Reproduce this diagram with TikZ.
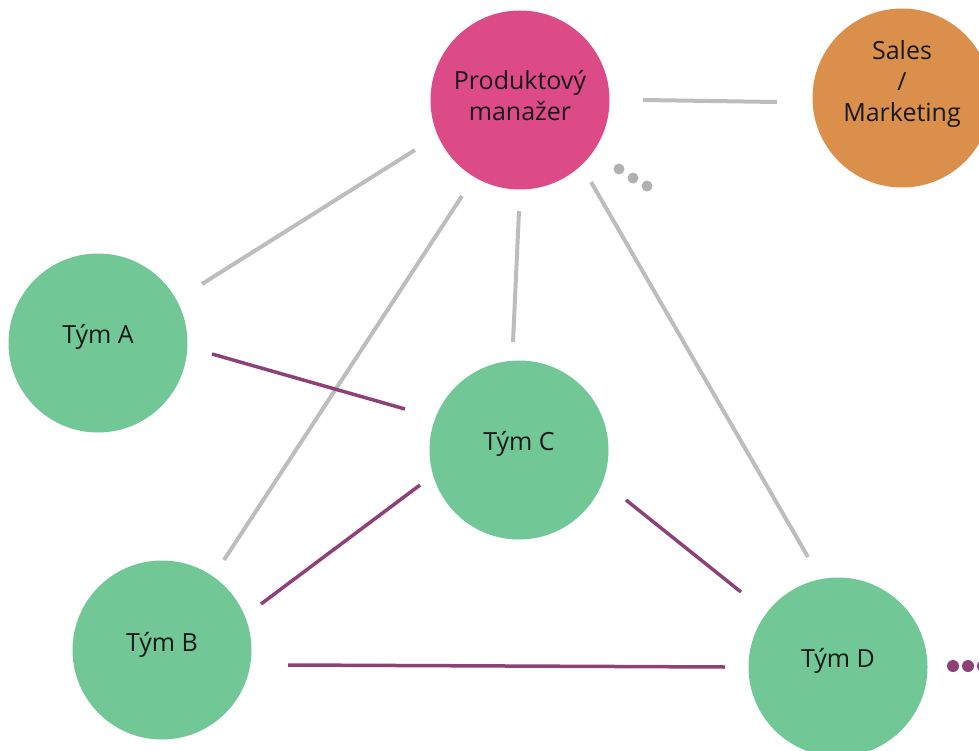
\documentclass[tikz,border=0pt]{standalone}
\usepackage{fontspec}
\setmainfont{Open Sans}
\usetikzlibrary{calc}
\definecolor{pmpink}{HTML}{DD4A88}
\definecolor{salesorange}{HTML}{DA8F4B}
\definecolor{teamgreen}{HTML}{72C797}
\definecolor{linegray}{HTML}{BDBDBD}
\definecolor{linepurple}{HTML}{8E4178}
\begin{document}
\begin{tikzpicture}[x=1pt,y=-1pt,
  bubble/.style={circle,minimum size=179pt,inner sep=0pt,draw=none},
  lbl/.style={align=center,font=\fontsize{25}{31}\selectfont,text=black!90},
  grayline/.style={draw=linegray,line width=4pt},
  purpleline/.style={draw=linepurple,line width=3.5pt}]
\useasboundingbox (0,0) rectangle (979,751);
\clip (0,0) rectangle (979,751);
% circles
\node[bubble,fill=pmpink] (pm) at (520,100) {};
\node[bubble,fill=salesorange] (sales) at (902,98) {};
\node[bubble,fill=teamgreen] (a) at (98,343) {};
\node[bubble,fill=teamgreen] (c) at (519,450) {};
\node[bubble,fill=teamgreen] (b) at (162,650) {};
\node[bubble,fill=teamgreen] (d) at (838,667) {};
% labels
\node[lbl] (pmt) at ($(pm)+(0,-4)$) {Produktový\\manažer};
\node[lbl] (salest) at ($(sales)+(0,-14)$) {Sales\\/\\Marketing};
\node[lbl] (at) at ($(a)+(0,-6)$) {Tým A};
\node[lbl] (ct) at ($(c)+(0,-6)$) {Tým C};
\node[lbl] (bt) at ($(b)+(0,-5)$) {Tým B};
\node[lbl] (dt) at ($(d)+(0,-6)$) {Tým D};
% gray connectors
\draw[grayline] ($(pm)+(123,0)$) -- ($(sales)+(-125,4)$);
\draw[grayline] ($(pm)+(-105,50)$) -- ($(a)+(104,-59)$);
\draw[grayline] ($(pm)+(-58,96)$) -- ($(b)+(62,-90)$);
\draw[grayline] ($(pm)+(-1,111)$) -- ($(c)+(-6,-108)$);
\draw[grayline] ($(pm)+(71,82)$) -- ($(d)+(-30,-110)$);
% purple connectors
\draw[purpleline] ($(a)+(114,11)$) -- ($(c)+(-114,-41)$);
\draw[purpleline] ($(c)+(-99,35)$) -- ($(b)+(99,-46)$);
\draw[purpleline] ($(c)+(107,50)$) -- ($(d)+(-97,-75)$);
\draw[purpleline] ($(b)+(126,15)$) -- ($(d)+(-113,0)$);
% ellipsis dots
\fill[linegray!80!gray] (619,169) circle (5.5);
\fill[linegray!80!gray] (633,178) circle (5.5);
\fill[linegray!80!gray] (647,186) circle (5.5);
\fill[linepurple] (953,666) circle (6);
\fill[linepurple] (968,666) circle (6);
\fill[linepurple] (983,666) circle (6);
\end{tikzpicture}
\end{document}
